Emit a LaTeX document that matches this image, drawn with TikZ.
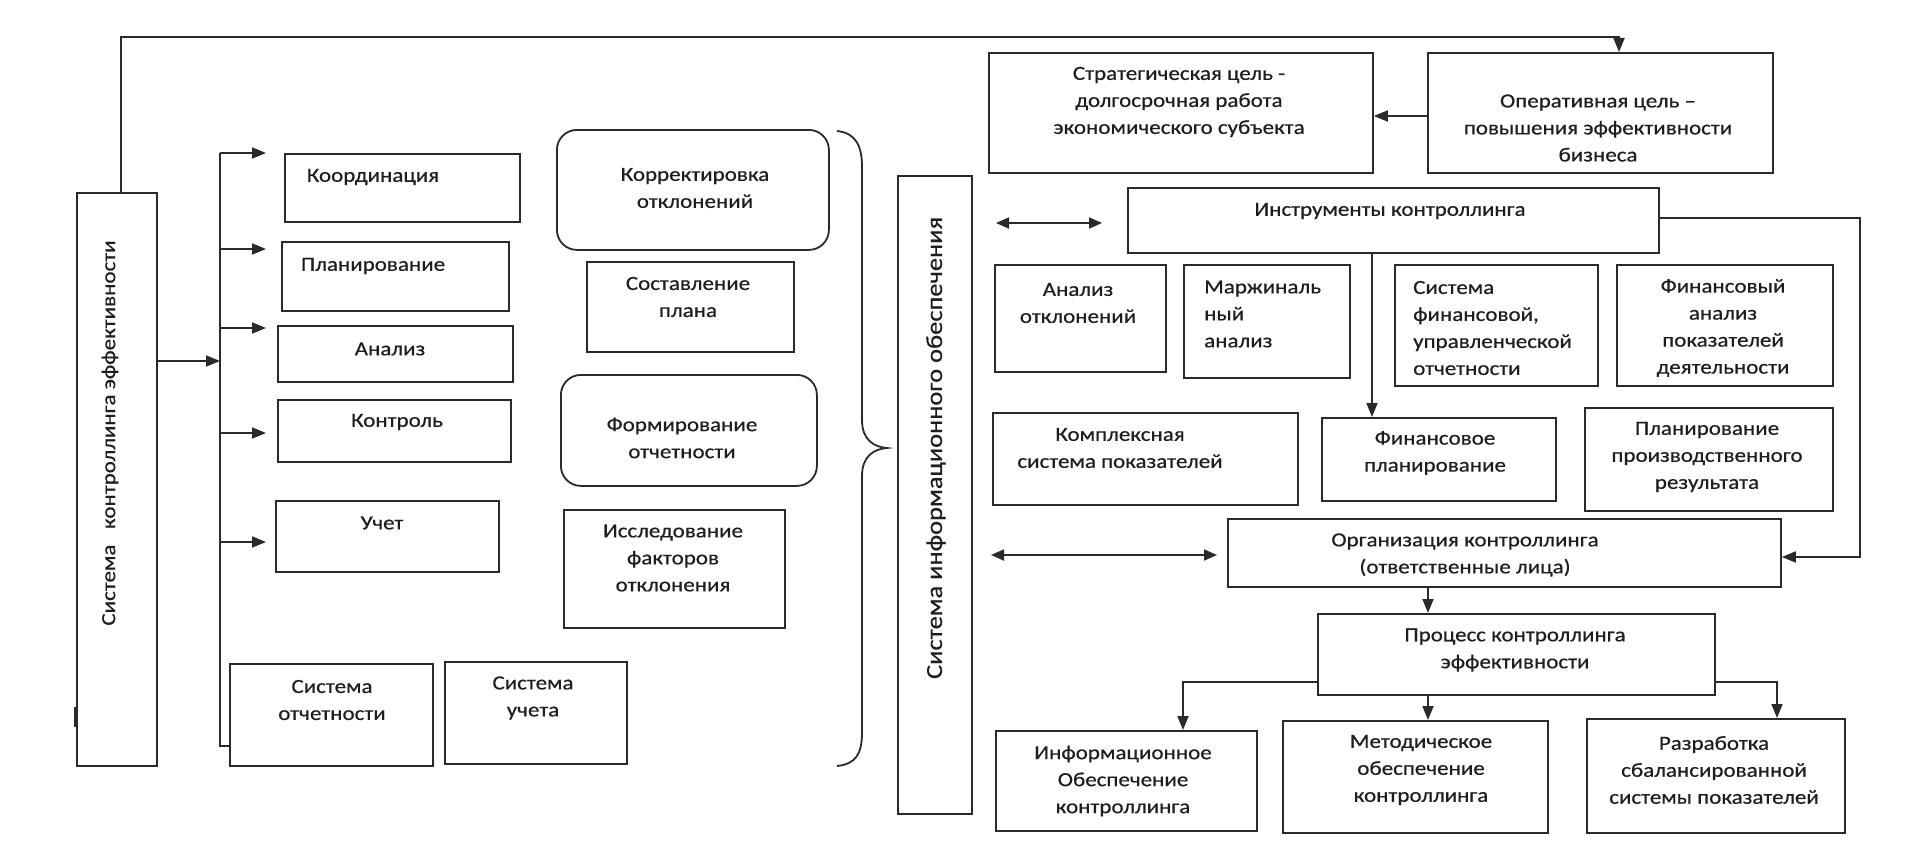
\documentclass[tikz,border=0pt]{standalone}
\usepackage{fontspec}
\setmainfont{Carlito}[FakeStretch=1.15,FakeBold=0.5]
\usetikzlibrary{arrows.meta}
\definecolor{ink}{HTML}{1E1E1E}
\definecolor{edge}{HTML}{2A2A2A}
\tikzset{
  bx/.style={draw=edge, line width=1.8pt, inner sep=0pt},
  rbx/.style={bx, rounded corners=20pt},
  txt/.style={text=ink, font=\fontsize{20}{27}\selectfont, align=center, inner sep=0pt},
  conn/.style={draw=edge, line width=1.8pt},
  arr/.style={conn, -{Triangle[length=14pt,width=11pt]}},
  darr/.style={conn, {Triangle[length=13pt,width=11pt]}-{Triangle[length=13pt,width=11pt]}},
}
\newcommand\mybox[6][bx]{%
  \node[#1, anchor=north west, minimum width={#5-#3}, minimum height={#6-#4}] (#2) at (#3,#4) {};}
\begin{document}
\begin{tikzpicture}[x=1pt,y=-1pt]
\useasboundingbox[fill=white] (0,0) rectangle (1927,859);

% ---- boxes ----
\mybox{sys}{76}{192}{156}{765}
\mybox{koord}{284}{153}{519}{221}
\mybox{plan}{281}{241}{508}{310}
\mybox{anal}{277}{325}{512}{381}
\mybox{kontr}{277}{399}{510}{461}
\mybox{uchet}{275}{500}{498}{571}
\mybox{otch}{229}{663}{432}{765}
\mybox{uch2}{444}{661}{626}{763}
\mybox[rbx]{korr}{556}{129}{828}{249}
\mybox{sost}{586}{261}{793}{351}
\mybox[rbx]{form}{560}{374}{816}{485}
\mybox{issl}{563}{509}{784}{627}
\mybox{info}{897}{175}{971}{813}
\mybox{strat}{988}{52}{1372}{172}
\mybox{oper}{1427}{52}{1772}{172}
\mybox{instr}{1127}{187}{1658}{252}
\mybox{aotk}{994}{264}{1165}{371}
\mybox{marzh}{1183}{264}{1349}{377}
\mybox{sfin}{1394}{264}{1597}{385}
\mybox{finan}{1616}{264}{1832}{385}
\mybox{kompl}{992}{412}{1297}{504}
\mybox{finpl}{1321}{417}{1555}{500}
\mybox{planpr}{1584}{407}{1832}{510}
\mybox{org}{1227}{518}{1780}{586}
\mybox{proc}{1317}{613}{1714}{694}
\mybox{infob}{995}{730}{1256}{830}
\mybox{metod}{1282}{720}{1547}{832}
\mybox{razr}{1586}{718}{1844}{832}

% ---- texts ----
\node[txt, rotate=90] (t-sys) at (110,433) {Система \ \ контроллинга эффективности};
\node[txt] (t-koord) at (373,177) {Координация};
\node[txt] (t-plan) at (373,266) {Планирование};
\node[txt] (t-anal) at (390,349) {Анализ};
\node[txt] (t-kontr) at (397,422) {Контроль};
\node[txt] (t-uchet) at (382,523) {Учет};
\node[txt] (t-otch) at (332,700) {Система\\отчетности};
\node[txt] (t-uch2) at (533,698) {Система\\учета};
\node[txt] (t-korr) at (695,188) {Корректировка\\отклонений};
\node[txt] (t-sost) at (688,297) {Составление\\плана};
\node[txt] (t-form) at (682,438) {Формирование\\отчетности};
\node[txt] (t-issl) at (673,558) {Исследование\\факторов\\отклонения};
\node[txt, rotate=90, font=\fontsize{23}{27}\selectfont] (t-info) at (936,448) {Система информационного обеспечения};
\node[txt] (t-strat) at (1179,102) {Стратегическая цель -\\долгосрочная работа\\экономического субъекта};
\node[txt] (t-oper) at (1598,128) {Оперативная цель –\\повышения эффективности\\бизнеса};
\node[txt] (t-instr) at (1390,211) {Инструменты контроллинга};
\node[txt] (t-aotk) at (1078,303) {Анализ\\отклонений};
\node[txt, align=left, anchor=west] (t-marzh) at (1204,314) {Маржиналь\\ный\\анализ};
\node[txt, align=left, anchor=west] (t-sfin) at (1413,328) {Система\\финансовой,\\управленческой\\отчетности};
\node[txt] (t-finan) at (1723,328) {Финансовый\\анализ\\показателей\\деятельности};
\node[txt] (t-kompl) at (1120,448) {Комплексная\\система показателей};
\node[txt] (t-finpl) at (1435,453) {Финансовое\\планирование};
\node[txt] (t-planpr) at (1707,457) {Планирование\\производственного\\результата};
\node[txt] (t-org) at (1465,555) {Организация контроллинга\\(ответственные лица)};
\node[txt] (t-proc) at (1515,650) {Процесс контроллинга\\эффективности};
\node[txt] (t-infob) at (1123,781) {Информационное\\Обеспечение\\контроллинга};
\node[txt] (t-metod) at (1421,770) {Методическое\\обеспечение\\контроллинга};
\node[txt] (t-razr) at (1714,770) {Разработка\\сбалансированной\\системы показателей};

% ---- coordinates ----
\coordinate (topL) at (121,37);
\coordinate (topR) at (1619,37);
\coordinate (busM) at (220,361);
\coordinate (busT) at (220,153);
\coordinate (busB) at (220,746);
\coordinate (b1) at (220,153); \coordinate (e1) at (266,153);
\coordinate (b2) at (220,249); \coordinate (e2) at (266,249);
\coordinate (b3) at (220,328); \coordinate (e3) at (266,328);
\coordinate (b4) at (220,433); \coordinate (e4) at (266,433);
\coordinate (b5) at (220,542); \coordinate (e5) at (266,542);
\coordinate (yOS) at (0,116);
\coordinate (d1a) at (996,223); \coordinate (d1b) at (1102,223);
\coordinate (d2a) at (991,555); \coordinate (d2b) at (1217,555);
\coordinate (yI) at (0,218);
\coordinate (xR) at (1860,0);
\coordinate (yO) at (0,557);
\coordinate (xF) at (1372,0);
\coordinate (xP) at (1428,0);
\coordinate (yP) at (0,682);
\coordinate (xL) at (1183,0);
\coordinate (xRR) at (1777,0);
\coordinate (mk1) at (0,707); \coordinate (mk2) at (0,727);

% ---- connectors ----
\draw[arr] (sys.north -| topL) -- (topL) -- (topR) -- (topR |- oper.north);
\draw[arr] (sys.east |- busM) -- (busM);
\draw[conn] (busT) -- (busB) -- (busB -| otch.west);
\draw[arr] (b1) -- (e1);
\draw[arr] (b2) -- (e2);
\draw[arr] (b3) -- (e3);
\draw[arr] (b4) -- (e4);
\draw[arr] (b5) -- (e5);
\draw[arr] (oper.west |- yOS) -- (strat.east |- yOS);
\draw[darr] (d1a) -- (d1b);
\draw[darr] (d2a) -- (d2b);
\draw[arr] (instr.east |- yI) -- (xR |- yI) -- (xR |- yO) -- (org.east |- yO);
\draw[arr] (instr.south -| xF) -- (finpl.north -| xF);
\draw[arr] (org.south -| xP) -- (proc.north -| xP);
\draw[arr] (proc.west |- yP) -- (xL |- yP) -- (infob.north -| xL);
\draw[arr] (proc.south -| xP) -- (metod.north -| xP);
\draw[arr] (proc.east |- yP) -- (xRR |- yP) -- (razr.north -| xRR);
\draw[conn, line width=3.2pt] (sys.west |- mk1) -- (sys.west |- mk2);

% ---- brace ----
\draw[conn] (837,131) .. controls (856,133) and (862,146) .. (862,167) -- (862,420)
  .. controls (862,440) and (874,447) .. (887,448)
  .. controls (874,449) and (862,456) .. (862,476) -- (862,732)
  .. controls (862,754) and (856,764) .. (837,766);
\end{tikzpicture}
\end{document}
